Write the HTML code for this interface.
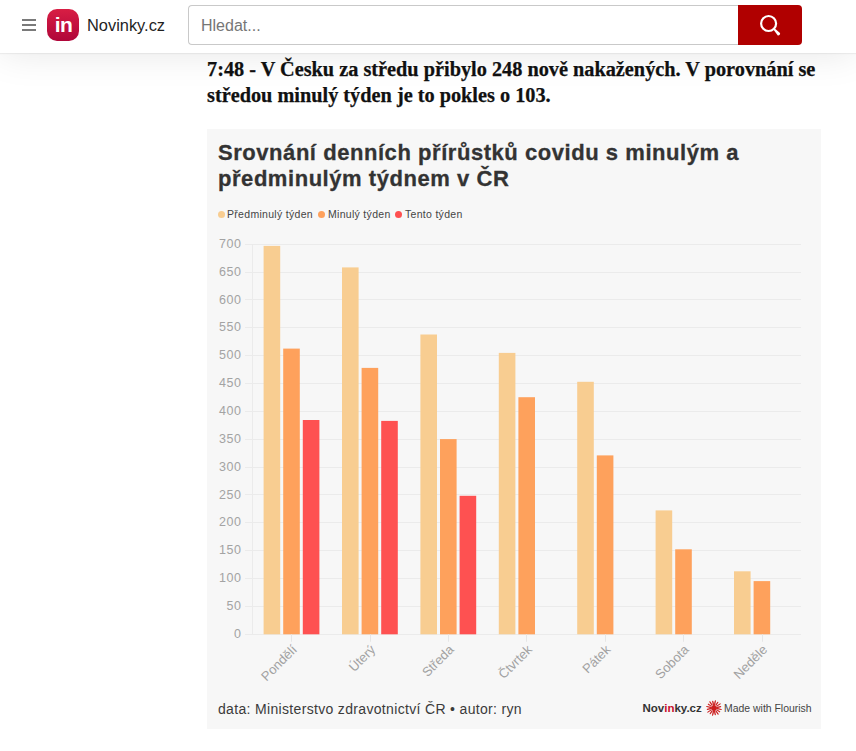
<!DOCTYPE html>
<html lang="cs">
<head>
<meta charset="utf-8">
<title>Novinky.cz</title>
<style>
html,body{margin:0;padding:0;background:#fff;}
body{width:856px;height:751px;overflow:hidden;position:relative;font-family:"Liberation Sans",Arial,sans-serif;}
#hdr{position:absolute;left:0;top:0;width:856px;height:53px;background:#fff;box-shadow:0 1px 1px rgba(0,0,0,0.05), 0 0 38px rgba(0,0,0,0.10);z-index:5;}
.hb{position:absolute;left:22px;width:14px;height:2px;background:#7a7a7a;}
#logo{position:absolute;left:47px;top:9px;width:32px;height:32px;border-radius:10px;background:linear-gradient(#d81e44,#b0063a);}
#logo span{position:absolute;left:0.6px;top:0.8px;width:32px;text-align:center;color:#fff;font:bold 21px/30px "Liberation Sans",Arial,sans-serif;letter-spacing:-0.5px;}
#brand{position:absolute;left:87px;top:15.3px;font-size:16.4px;line-height:20px;color:#1f1f1f;}
#search{position:absolute;left:188px;top:5px;width:550px;height:40px;box-sizing:border-box;border:1px solid #c9c9c9;border-right:none;border-radius:4px 0 0 4px;background:#fff;}
#search span{position:absolute;left:12px;top:10px;font-size:16px;line-height:20px;color:#767676;}
#btn{position:absolute;left:738px;top:5px;width:64px;height:40px;background:#b00000;border-radius:0 4px 4px 0;}
#lead{position:absolute;left:207px;top:57px;width:640px;font-family:"Liberation Serif","Times New Roman",serif;font-weight:bold;font-size:20.3px;line-height:25.5px;color:#111;-webkit-text-stroke:0.25px #111;}
#chart{position:absolute;left:207px;top:129px;width:614px;height:600px;background:#f7f7f7;}
#ctitle{position:absolute;left:11px;top:10.6px;width:600px;font-weight:bold;font-size:22px;letter-spacing:0.55px;line-height:26px;color:#333;-webkit-text-stroke:0.3px #333;}
#chart svg{position:absolute;left:0;top:0;}
.yl{font-family:"Liberation Sans",Arial,sans-serif;font-size:12.5px;letter-spacing:0.6px;fill:#a3a3a3;}
.xl{font-family:"Liberation Sans",Arial,sans-serif;font-size:13px;fill:#a2a2a2;}
.lg{position:absolute;top:79px;font-size:10.5px;letter-spacing:0.3px;line-height:12px;color:#444;white-space:nowrap;}
.dot{position:absolute;top:82px;width:7px;height:7px;border-radius:50%;}
#src{position:absolute;left:11px;top:572.2px;font-size:14px;letter-spacing:0.33px;line-height:16px;color:#3b3b3b;white-space:nowrap;}
#nvk{position:absolute;left:435.5px;top:572px;font-weight:bold;font-size:11.5px;line-height:14px;color:#333;white-space:nowrap;}
#nvk b{color:#c8102e;}
#mwf{position:absolute;left:516.5px;top:571.5px;font-size:11.8px;line-height:14px;color:#444;white-space:nowrap;transform:scaleX(0.885);transform-origin:0 0;}
</style>
</head>
<body>
<div id="hdr">
  <div class="hb" style="top:19px"></div>
  <div class="hb" style="top:24px"></div>
  <div class="hb" style="top:29px"></div>
  <div id="logo"><span>in</span></div>
  <div id="brand">Novinky.cz</div>
  <div id="search"><span>Hledat...</span></div>
  <div id="btn"><svg width="64" height="40" viewBox="0 0 64 40"><circle cx="30.6" cy="18.5" r="7.5" fill="none" stroke="#fff" stroke-width="2.2"/><path d="M35.4 24.4 L36.5 23.3 L42 27.9 A1.9 1.9 0 0 1 39.8 30.4 Z" fill="#fff"/></svg></div>
</div>
<div id="lead">7:48 - V Česku za středu přibylo 248 nově nakažených. V porovnání se středou minulý týden je to pokles o 103.</div>
<div id="chart">
  <div id="ctitle">Srovnání denních přírůstků covidu s minulým a předminulým týdnem v ČR</div>
  <span class="dot" style="left:10.5px;background:#f8cd91"></span><span class="lg" style="left:20px">Předminulý týden</span>
  <span class="dot" style="left:110.9px;background:#fea15c"></span><span class="lg" style="left:121px">Minulý týden</span>
  <span class="dot" style="left:187.7px;background:#fe5151"></span><span class="lg" style="left:198px">Tento týden</span>
  <svg width="614" height="599" viewBox="0 0 614 599">
<line x1="38" y1="505.5" x2="594" y2="505.5" stroke="#ebebeb" stroke-width="1"/>
<text x="34.6" y="508.9" text-anchor="end" class="yl">0</text>
<line x1="38" y1="477.5" x2="594" y2="477.5" stroke="#ebebeb" stroke-width="1"/>
<text x="34.6" y="481.0" text-anchor="end" class="yl">50</text>
<line x1="38" y1="449.5" x2="594" y2="449.5" stroke="#ebebeb" stroke-width="1"/>
<text x="34.6" y="453.2" text-anchor="end" class="yl">100</text>
<line x1="38" y1="421.5" x2="594" y2="421.5" stroke="#ebebeb" stroke-width="1"/>
<text x="34.6" y="425.3" text-anchor="end" class="yl">150</text>
<line x1="38" y1="393.5" x2="594" y2="393.5" stroke="#ebebeb" stroke-width="1"/>
<text x="34.6" y="397.4" text-anchor="end" class="yl">200</text>
<line x1="38" y1="365.5" x2="594" y2="365.5" stroke="#ebebeb" stroke-width="1"/>
<text x="34.6" y="369.6" text-anchor="end" class="yl">250</text>
<line x1="38" y1="338.5" x2="594" y2="338.5" stroke="#ebebeb" stroke-width="1"/>
<text x="34.6" y="341.7" text-anchor="end" class="yl">300</text>
<line x1="38" y1="310.5" x2="594" y2="310.5" stroke="#ebebeb" stroke-width="1"/>
<text x="34.6" y="313.8" text-anchor="end" class="yl">350</text>
<line x1="38" y1="282.5" x2="594" y2="282.5" stroke="#ebebeb" stroke-width="1"/>
<text x="34.6" y="286.0" text-anchor="end" class="yl">400</text>
<line x1="38" y1="254.5" x2="594" y2="254.5" stroke="#ebebeb" stroke-width="1"/>
<text x="34.6" y="258.1" text-anchor="end" class="yl">450</text>
<line x1="38" y1="226.5" x2="594" y2="226.5" stroke="#ebebeb" stroke-width="1"/>
<text x="34.6" y="230.2" text-anchor="end" class="yl">500</text>
<line x1="38" y1="198.5" x2="594" y2="198.5" stroke="#ebebeb" stroke-width="1"/>
<text x="34.6" y="202.4" text-anchor="end" class="yl">550</text>
<line x1="38" y1="170.5" x2="594" y2="170.5" stroke="#ebebeb" stroke-width="1"/>
<text x="34.6" y="174.5" text-anchor="end" class="yl">600</text>
<line x1="38" y1="143.5" x2="594" y2="143.5" stroke="#ebebeb" stroke-width="1"/>
<text x="34.6" y="146.7" text-anchor="end" class="yl">650</text>
<line x1="38" y1="115.5" x2="594" y2="115.5" stroke="#ebebeb" stroke-width="1"/>
<text x="34.6" y="118.8" text-anchor="end" class="yl">700</text>
<line x1="45.5" y1="115.2" x2="45.5" y2="505.3" stroke="#ebebeb" stroke-width="1"/>
<rect x="56.6" y="116.9" width="16.6" height="388.4" fill="#f8cd91"/>
<rect x="76.2" y="219.6" width="16.6" height="285.7" fill="#fea15c"/>
<rect x="95.8" y="291.0" width="16.6" height="214.3" fill="#fe5151"/>
<line x1="84.5" y1="505.3" x2="84.5" y2="512.8" stroke="#e6e6e6" stroke-width="1"/>
<text x="90.7" y="521.5" text-anchor="end" transform="rotate(-45 90.7 521.5)" class="xl">Pondělí</text>
<rect x="135.0" y="138.4" width="16.6" height="366.9" fill="#f8cd91"/>
<rect x="154.6" y="238.9" width="16.6" height="266.4" fill="#fea15c"/>
<rect x="174.2" y="291.9" width="16.6" height="213.4" fill="#fe5151"/>
<line x1="163.5" y1="505.3" x2="163.5" y2="512.8" stroke="#e6e6e6" stroke-width="1"/>
<text x="169.1" y="521.5" text-anchor="end" transform="rotate(-45 169.1 521.5)" class="xl">Úterý</text>
<rect x="213.4" y="205.5" width="16.6" height="299.8" fill="#f8cd91"/>
<rect x="233.0" y="310.1" width="16.6" height="195.2" fill="#fea15c"/>
<rect x="252.6" y="366.8" width="16.6" height="138.5" fill="#fe5151"/>
<line x1="241.5" y1="505.3" x2="241.5" y2="512.8" stroke="#e6e6e6" stroke-width="1"/>
<text x="247.5" y="521.5" text-anchor="end" transform="rotate(-45 247.5 521.5)" class="xl">Středa</text>
<rect x="291.8" y="223.9" width="16.6" height="281.4" fill="#f8cd91"/>
<rect x="311.4" y="268.2" width="16.6" height="237.1" fill="#fea15c"/>
<line x1="319.5" y1="505.3" x2="319.5" y2="512.8" stroke="#e6e6e6" stroke-width="1"/>
<text x="325.9" y="521.5" text-anchor="end" transform="rotate(-45 325.9 521.5)" class="xl">Čtvrtek</text>
<rect x="370.2" y="252.8" width="16.6" height="252.5" fill="#f8cd91"/>
<rect x="389.8" y="326.4" width="16.6" height="178.9" fill="#fea15c"/>
<line x1="398.5" y1="505.3" x2="398.5" y2="512.8" stroke="#e6e6e6" stroke-width="1"/>
<text x="404.3" y="521.5" text-anchor="end" transform="rotate(-45 404.3 521.5)" class="xl">Pátek</text>
<rect x="448.6" y="381.4" width="16.6" height="123.9" fill="#f8cd91"/>
<rect x="468.2" y="420.3" width="16.6" height="85.0" fill="#fea15c"/>
<line x1="476.5" y1="505.3" x2="476.5" y2="512.8" stroke="#e6e6e6" stroke-width="1"/>
<text x="482.7" y="521.5" text-anchor="end" transform="rotate(-45 482.7 521.5)" class="xl">Sobota</text>
<rect x="527.0" y="442.3" width="16.6" height="63.0" fill="#f8cd91"/>
<rect x="546.6" y="452.1" width="16.6" height="53.2" fill="#fea15c"/>
<line x1="555.5" y1="505.3" x2="555.5" y2="512.8" stroke="#e6e6e6" stroke-width="1"/>
<text x="561.1" y="521.5" text-anchor="end" transform="rotate(-45 561.1 521.5)" class="xl">Neděle</text>
  </svg>
  <div id="src">data: Ministerstvo zdravotnictví ČR • autor: ryn</div>
  <div id="nvk">Nov<b>in</b>ky.cz</div>
  <svg style="left:498.5px;top:571px" width="16" height="16" viewBox="-8 -8 16 16"><circle cx="0" cy="0" r="2.6" fill="#cc1f1f"/><polygon points="0,-7.3 1.4,0 0,7.3 -1.4,0" fill="#cc1f1f"/><polygon points="-5.6,0 0,1.4 5.6,0 0,-1.4" fill="#cc1f1f"/><line x1="3.33" y1="0.66" x2="7.26" y2="1.44" stroke="#cc1f1f" stroke-width="1.15" stroke-linecap="round"/><line x1="2.83" y1="1.89" x2="5.65" y2="3.78" stroke="#cc1f1f" stroke-width="1.15" stroke-linecap="round"/><line x1="1.89" y1="2.83" x2="4.11" y2="6.15" stroke="#cc1f1f" stroke-width="1.15" stroke-linecap="round"/><line x1="0.66" y1="3.33" x2="1.33" y2="6.67" stroke="#cc1f1f" stroke-width="1.15" stroke-linecap="round"/><line x1="-0.66" y1="3.33" x2="-1.44" y2="7.26" stroke="#cc1f1f" stroke-width="1.15" stroke-linecap="round"/><line x1="-1.89" y1="2.83" x2="-3.78" y2="5.65" stroke="#cc1f1f" stroke-width="1.15" stroke-linecap="round"/><line x1="-2.83" y1="1.89" x2="-6.15" y2="4.11" stroke="#cc1f1f" stroke-width="1.15" stroke-linecap="round"/><line x1="-3.33" y1="0.66" x2="-6.67" y2="1.33" stroke="#cc1f1f" stroke-width="1.15" stroke-linecap="round"/><line x1="-3.33" y1="-0.66" x2="-7.26" y2="-1.44" stroke="#cc1f1f" stroke-width="1.15" stroke-linecap="round"/><line x1="-2.83" y1="-1.89" x2="-5.65" y2="-3.78" stroke="#cc1f1f" stroke-width="1.15" stroke-linecap="round"/><line x1="-1.89" y1="-2.83" x2="-4.11" y2="-6.15" stroke="#cc1f1f" stroke-width="1.15" stroke-linecap="round"/><line x1="-0.66" y1="-3.33" x2="-1.33" y2="-6.67" stroke="#cc1f1f" stroke-width="1.15" stroke-linecap="round"/><line x1="0.66" y1="-3.33" x2="1.44" y2="-7.26" stroke="#cc1f1f" stroke-width="1.15" stroke-linecap="round"/><line x1="1.89" y1="-2.83" x2="3.78" y2="-5.65" stroke="#cc1f1f" stroke-width="1.15" stroke-linecap="round"/><line x1="2.83" y1="-1.89" x2="6.15" y2="-4.11" stroke="#cc1f1f" stroke-width="1.15" stroke-linecap="round"/><line x1="3.33" y1="-0.66" x2="6.67" y2="-1.33" stroke="#cc1f1f" stroke-width="1.15" stroke-linecap="round"/></svg>
  <div id="mwf">Made with Flourish</div>
</div>
</body>
</html>
